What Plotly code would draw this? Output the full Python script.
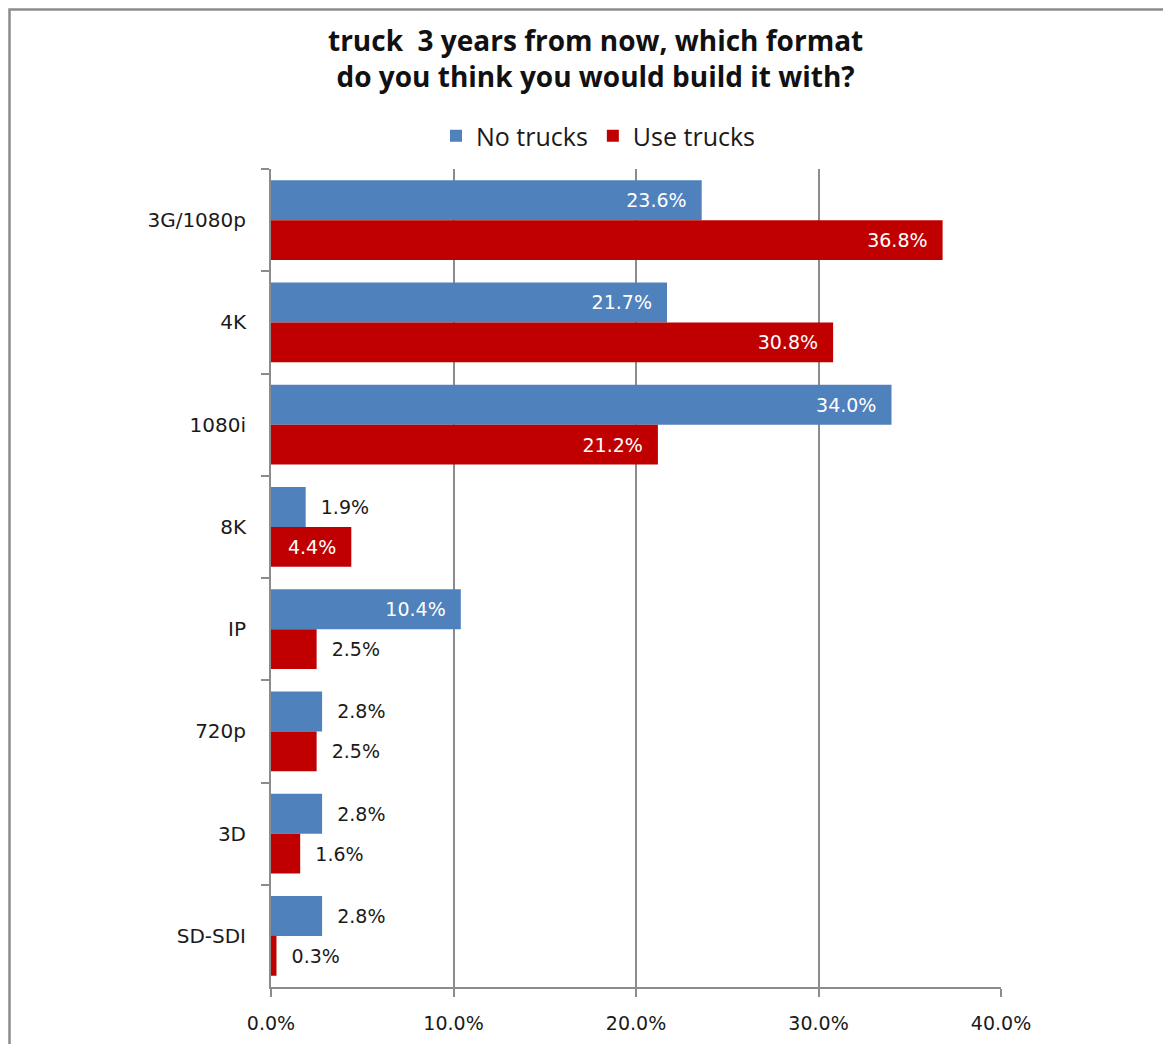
import plotly.graph_objects as go

categories = ["3G/1080p", "4K", "1080i", "8K", "IP", "720p", "3D", "SD-SDI"]
no_trucks = [23.6, 21.7, 34.0, 1.9, 10.4, 2.8, 2.8, 2.8]
use_trucks = [36.8, 30.8, 21.2, 4.4, 2.5, 2.5, 1.6, 0.3]
x_ticks = [0, 10, 20, 30, 40]
x_tick_labels = ["0.0%", "10.0%", "20.0%", "30.0%", "40.0%"]

NB = "\u00a0"
LABEL_FONT = "DejaVu Sans"

# page body has an 8px margin, so the figure is placed at (8, 8)
W, H = 1163, 1036
L, R, T, B = 263, 170, 161, 57
PW, PH = W - L - R, H - T - B


def label_parts(vals):
    texts, pos, colors = [], [], []
    for v in vals:
        if v >= 4:
            texts.append(f"{v:.1f}%" + NB * 2)
            pos.append("inside")
            colors.append("white")
        else:
            texts.append(NB * 2 + f"{v:.1f}%")
            pos.append("outside")
            colors.append("#1a1a1a")
    return texts, pos, colors


fig = go.Figure()
for name, vals, color in [("No trucks", no_trucks, "#4F81BD"),
                          ("Use trucks", use_trucks, "#C00000")]:
    t, p, c = label_parts(vals)
    fig.add_trace(go.Bar(
        y=categories, x=vals, name=name, orientation="h",
        marker=dict(color=color, line=dict(width=0)),
        text=t, textposition=p, insidetextanchor="end",
        textfont=dict(family=LABEL_FONT, size=19, color=c),
        constraintext="none", cliponaxis=False,
    ))


def px_x(x):  # page pixel -> paper x
    return (x - 8 - L) / PW


def px_y(y):  # page pixel -> paper y
    return (H - B - (y - 8)) / PH


fig.update_layout(
    width=W, height=H,
    paper_bgcolor="white", plot_bgcolor="white",
    margin=dict(l=L, r=R, t=T, b=B, autoexpand=False),
    barmode="group", bargap=0.22, bargroupgap=0,
    showlegend=True,
    legend=dict(orientation="h", x=px_x(598), xanchor="center", y=px_y(136), yanchor="middle",
                font=dict(family="Open Sans", size=25, color="#1a1a1a"),
                itemwidth=30, traceorder="normal", bgcolor="rgba(0,0,0,0)"),
    xaxis=dict(range=[0, 40], tickvals=x_ticks, ticktext=x_tick_labels,
               showgrid=True, gridcolor="#8c8c8c", gridwidth=1.5,
               showline=True, linecolor="#8c8c8c", linewidth=2,
               ticks="outside", ticklen=8, tickcolor="#8c8c8c", tickwidth=1.5,
               ticklabelstandoff=10, zeroline=False,
               tickfont=dict(family=LABEL_FONT, size=19, color="#1a1a1a")),
    yaxis=dict(autorange="reversed", type="category",
               showline=True, linecolor="#8c8c8c", linewidth=2,
               ticks="outside", ticklen=8, tickcolor="#8c8c8c", tickwidth=1.5,
               tickson="boundaries", ticklabelstandoff=19, showgrid=False,
               tickfont=dict(family=LABEL_FONT, size=20, color="#1a1a1a")),
)

fig.add_annotation(
    text="<b>truck  3 years from now, which format<br>do you think you would build it with?</b>",
    xref="paper", yref="paper", x=px_x(595), y=px_y(58), xanchor="center", yanchor="middle",
    showarrow=False, align="center",
    font=dict(family="Open Sans", size=28, color="#111111"))

# chart border (as in the original spreadsheet chart frame)
fig.add_shape(type="rect", xref="paper", yref="paper",
              x0=px_x(9.5), x1=px_x(1250), y0=px_y(1100), y1=px_y(9.5),
              line=dict(color="#8c8c8c", width=2.5), fillcolor="rgba(0,0,0,0)", layer="below")

fig.write_html("out.html")
